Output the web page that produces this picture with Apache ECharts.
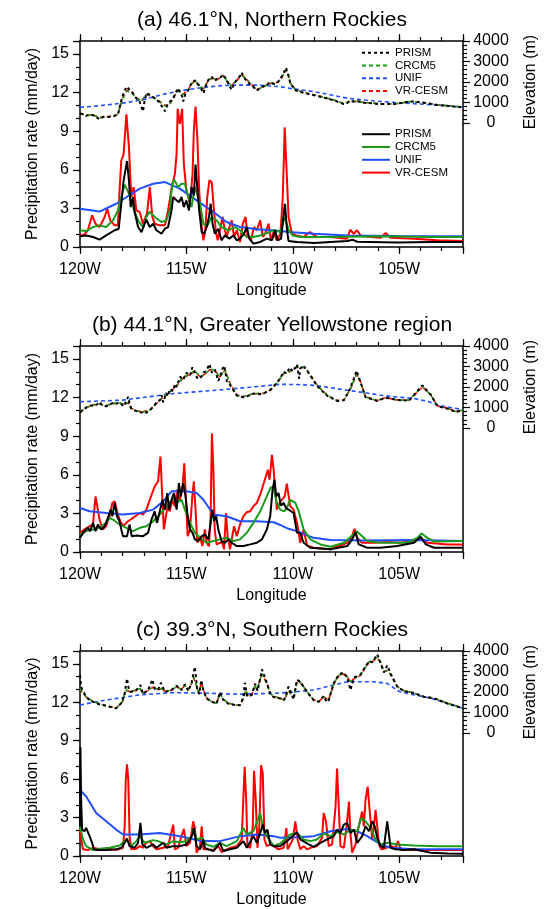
<!DOCTYPE html>
<html>
<head>
<meta charset="utf-8">
<script src="https://cdn.jsdelivr.net/npm/echarts/dist/echarts.min.js"></script>
<style>
html, body { margin: 0; padding: 0; background: #fff; }
#chart { width: 552px; height: 909px; }
</style>
</head>
<body>
<div id="chart"></div>
<script>
// Axis ticks and labels
const lonTicks = [-120, -115, -110, -105];
const lonTickLabels = ['120W', '115W', '110W', '105W'];
const precipTicks = [0, 3, 6, 9, 12, 15];
const elevTicks = [0, 1000, 2000, 3000, 4000];
const panelTitles = [
  '(a) 46.1°N, Northern Rockies',
  '(b) 44.1°N, Greater Yellowstone region',
  '(c) 39.3°N, Southern Rockies'
];
const modelNames = ['PRISM', 'CRCM5', 'UNIF', 'VR-CESM'];

// ---------- (a) 46.1N : elevation (m), [longitude, value] ----------
const aElevPRISM = [[-120,470],[-119.85,420],[-119.71,350],[-119.55,420],[-119.39,380],[-119.08,190],[-118.9,300],[-118.77,290],[-118.45,320],[-118.22,400],[-118.01,1300],[-117.9,1600],[-117.79,1780],[-117.7,1650],[-117.59,1560],[-117.35,1200],[-117.2,1050],[-117.04,570],[-116.96,1100],[-116.88,1450],[-116.72,1380],[-116.64,1300],[-116.49,1200],[-116.25,1000],[-116.09,700],[-116.01,570],[-115.86,950],[-115.78,880],[-115.62,1200],[-115.54,1400],[-115.39,1700],[-115.3,1500],[-115.2,1300],[-115.15,1050],[-115.05,1400],[-114.91,1600],[-114.76,1950],[-114.6,2080],[-114.49,1900],[-114.36,1800],[-114.2,1450],[-114.05,1900],[-113.97,2100],[-113.81,2250],[-113.66,2050],[-113.58,2150],[-113.42,2200],[-113.27,2360],[-113.11,2100],[-113.03,1900],[-112.87,1620],[-112.75,1950],[-112.63,2100],[-112.48,2300],[-112.4,2460],[-112.29,2200],[-112.16,2050],[-112.04,1900],[-111.93,1850],[-111.69,1580],[-111.55,1700],[-111.45,1760],[-111.22,1840],[-111.1,1980],[-110.98,1940],[-110.83,1880],[-110.7,2000],[-110.58,2150],[-110.43,2450],[-110.32,2700],[-110.19,2280],[-110.12,1950],[-109.88,1600],[-109.6,1500],[-109.33,1430],[-109.0,1350],[-108.7,1280],[-108.4,1200],[-108.07,1110],[-107.8,1000],[-107.6,920],[-107.45,960],[-107.29,1100],[-107.1,1020],[-106.9,1060],[-106.66,990],[-106.3,960],[-105.87,920],[-105.5,940],[-105.25,930],[-104.9,980],[-104.46,1060],[-104.2,1020],[-103.99,1010],[-103.6,950],[-103.2,880],[-102.8,840],[-102.4,800],[-102,770]];
const aElevCRCM5 = [[-120,480],[-119.71,360],[-119.39,400],[-119.08,260],[-118.77,300],[-118.45,330],[-118.22,420],[-118.01,1150],[-117.79,1560],[-117.59,1500],[-117.35,1210],[-117.11,1060],[-116.88,1400],[-116.64,1300],[-116.49,1210],[-116.25,1040],[-116.01,830],[-115.78,900],[-115.54,1370],[-115.39,1600],[-115.15,1380],[-114.91,1610],[-114.76,1920],[-114.6,2040],[-114.36,1810],[-114.2,1640],[-113.97,2090],[-113.81,2200],[-113.58,2100],[-113.27,2330],[-113.03,1950],[-112.87,1810],[-112.63,2100],[-112.4,2370],[-112.16,2100],[-111.93,1860],[-111.69,1620],[-111.45,1740],[-111.22,1850],[-110.98,1960],[-110.83,1900],[-110.58,2120],[-110.43,2400],[-110.32,2600],[-110.19,2250],[-110.12,1940],[-109.88,1620],[-109.33,1450],[-108.7,1290],[-108.07,1130],[-107.6,940],[-107.29,1080],[-106.66,1000],[-105.87,930],[-105.25,930],[-104.46,1050],[-103.99,1000],[-103.2,890],[-102.4,810],[-102,775]];
const aElevUNIF = [[-120,760],[-119,850],[-118,970],[-117,1140],[-116.5,1290],[-116,1420],[-115,1620],[-114,1760],[-113.27,1830],[-112.5,1850],[-111.69,1850],[-111,1800],[-110.59,1770],[-110.19,1700],[-109.5,1600],[-109,1530],[-108.2,1370],[-107.44,1210],[-106.6,1120],[-105.87,1050],[-105,990],[-104.3,940],[-103,860],[-102,775]];
const aElevVRCESM = [[-120,470],[-119.71,370],[-119.39,390],[-119.08,270],[-118.77,310],[-118.45,340],[-118.22,430],[-118.01,1200],[-117.79,1610],[-117.59,1540],[-117.35,1230],[-117.11,1080],[-116.88,1380],[-116.64,1310],[-116.49,1220],[-116.25,1060],[-116.01,860],[-115.78,920],[-115.54,1350],[-115.39,1580],[-115.15,1400],[-114.91,1620],[-114.76,1900],[-114.6,2070],[-114.36,1830],[-114.2,1660],[-113.97,2060],[-113.81,2180],[-113.58,2110],[-113.27,2300],[-113.03,1970],[-112.87,1830],[-112.63,2080],[-112.4,2340],[-112.16,2120],[-111.93,1870],[-111.69,1640],[-111.45,1730],[-111.22,1860],[-110.98,1950],[-110.83,1920],[-110.58,2100],[-110.43,2380],[-110.32,2570],[-110.19,2270],[-110.12,1960],[-109.88,1640],[-109.33,1460],[-108.7,1300],[-108.07,1120],[-107.6,950],[-107.29,1070],[-106.66,1010],[-105.87,940],[-105.25,920],[-104.46,1040],[-103.99,1010],[-103.2,880],[-102.4,815],[-102,780]];

// ---------- (a) 46.1N : precipitation (mm/day) ----------
const aPrecipPRISM = [[-120,0.83],[-119.71,0.9],[-119.39,0.78],[-119.08,0.57],[-118.77,0.9],[-118.37,1.3],[-118.18,1.42],[-118.06,3.36],[-117.95,5.17],[-117.79,6.67],[-117.7,5.17],[-117.62,3.1],[-117.51,3.88],[-117.43,2.7],[-117.27,1.55],[-117.11,1.16],[-116.96,1.81],[-116.88,2.12],[-116.72,1.55],[-116.56,1.81],[-116.41,1.3],[-116.17,1.03],[-116.01,1.42],[-115.86,1.55],[-115.7,2.84],[-115.62,3.88],[-115.46,3.62],[-115.34,3.49],[-115.23,3.88],[-115.12,3.1],[-115.0,3.62],[-114.88,2.84],[-114.76,4.65],[-114.65,4.0],[-114.57,6.41],[-114.49,4.65],[-114.4,2.84],[-114.28,1.16],[-114.17,1.03],[-114.05,1.55],[-113.94,2.33],[-113.86,3.36],[-113.77,1.81],[-113.66,1.03],[-113.5,1.42],[-113.35,0.52],[-113.19,0.9],[-112.98,0.65],[-112.79,0.9],[-112.63,0.52],[-112.48,0.65],[-112.29,1.03],[-112.16,1.55],[-112.04,0.65],[-111.85,0.26],[-111.53,0.39],[-111.22,0.65],[-110.98,0.52],[-110.83,1.3],[-110.71,0.52],[-110.55,0.65],[-110.46,2.07],[-110.37,3.36],[-110.27,1.3],[-110.2,0.47],[-109.8,0.39],[-109.0,0.31],[-107.44,0.47],[-107.2,0.57],[-106.97,0.41],[-105.1,0.34],[-103.5,0.39],[-102,0.39]];
const aPrecipCRCM5 = [[-120,1.3],[-119.71,1.24],[-119.39,1.55],[-119.08,1.68],[-118.77,1.55],[-118.45,2.07],[-118.22,2.84],[-118.06,3.88],[-117.9,4.85],[-117.7,4.14],[-117.51,3.1],[-117.27,2.07],[-117.04,1.55],[-116.88,2.33],[-116.72,2.75],[-116.49,2.33],[-116.17,1.94],[-115.94,2.07],[-115.78,2.84],[-115.67,4.91],[-115.57,5.22],[-115.39,4.65],[-115.23,4.91],[-115.07,4.91],[-114.91,3.88],[-114.76,3.1],[-114.6,4.65],[-114.52,4.65],[-114.36,3.36],[-114.2,1.81],[-114.05,1.55],[-113.81,2.33],[-113.58,2.07],[-113.35,1.55],[-113.03,1.3],[-112.72,1.55],[-112.48,1.3],[-112.16,0.78],[-111.85,0.78],[-111.53,0.9],[-111.22,1.09],[-110.9,1.3],[-110.58,1.16],[-110.38,2.33],[-110.19,1.3],[-110.0,0.9],[-109.65,0.78],[-108.23,0.78],[-105.87,0.83],[-103.5,0.78],[-102,0.78]];
const aPrecipUNIF = [[-120,2.97],[-119.08,2.75],[-118.3,3.36],[-117.19,4.53],[-116.56,4.91],[-116.01,5.04],[-115.31,4.53],[-114.52,3.62],[-113.73,2.72],[-113.11,1.94],[-112.48,1.55],[-111.69,1.37],[-110.9,1.3],[-110.19,1.16],[-109.0,1.03],[-107.44,0.9],[-105.09,0.85],[-102,0.83]];
const aPrecipVRCESM = [[-120,0.9],[-119.79,0.98],[-119.63,1.3],[-119.43,2.46],[-119.27,1.8],[-119.08,1.55],[-118.84,2.33],[-118.72,2.97],[-118.58,2.07],[-118.37,1.68],[-118.22,1.68],[-118.14,4.4],[-118.06,6.72],[-117.95,7.2],[-117.82,10.3],[-117.7,7.76],[-117.59,3.88],[-117.48,4.65],[-117.35,2.84],[-117.19,2.7],[-117.04,1.81],[-116.96,1.68],[-116.85,2.59],[-116.72,4.65],[-116.6,2.33],[-116.49,1.81],[-116.25,1.68],[-116.01,1.68],[-115.86,2.84],[-115.7,4.53],[-115.54,5.69],[-115.46,7.24],[-115.41,10.73],[-115.31,9.57],[-115.2,10.73],[-115.12,6.46],[-115.0,4.4],[-114.83,3.36],[-114.71,5.69],[-114.65,9.05],[-114.57,10.91],[-114.48,8.27],[-114.4,4.4],[-114.28,1.55],[-114.2,0.52],[-114.11,1.3],[-114.02,3.88],[-113.92,5.17],[-113.81,5.04],[-113.73,3.36],[-113.62,1.3],[-113.53,0.52],[-113.42,1.3],[-113.3,2.33],[-113.19,1.3],[-113.11,0.78],[-112.98,1.55],[-112.87,2.07],[-112.76,0.78],[-112.63,1.3],[-112.48,0.39],[-112.35,1.81],[-112.22,2.33],[-112.13,0.9],[-111.97,0.52],[-111.82,1.55],[-111.69,1.3],[-111.53,2.07],[-111.41,0.78],[-111.3,1.03],[-111.14,1.81],[-111.03,0.52],[-110.9,1.16],[-110.75,0.52],[-110.58,1.03],[-110.47,3.88],[-110.38,9.3],[-110.27,5.17],[-110.2,2.33],[-110.04,1.03],[-109.82,0.9],[-109.5,0.78],[-109.2,1.16],[-108.86,0.78],[-108.23,0.78],[-107.45,0.65],[-107.3,1.34],[-107.14,1.03],[-106.98,1.3],[-106.82,0.9],[-106.35,0.78],[-105.87,0.72],[-105.64,1.09],[-105.4,0.72],[-104.3,0.65],[-103.2,0.52],[-102,0.47]];

// ---------- (b) 44.1N : elevation (m) ----------
const bElevPRISM = [[-120,760],[-119.85,900],[-119.71,1000],[-119.55,1080],[-119.39,1100],[-119.2,1150],[-119.08,1280],[-118.95,1100],[-118.77,1060],[-118.6,1150],[-118.45,1220],[-118.3,1180],[-118.14,1250],[-117.95,1050],[-117.74,1520],[-117.65,1100],[-117.59,940],[-117.35,820],[-117.1,760],[-116.96,700],[-116.72,860],[-116.5,1100],[-116.41,1250],[-116.25,1350],[-116.17,1600],[-116.09,1250],[-115.95,1700],[-115.86,1550],[-115.78,1900],[-115.62,1800],[-115.54,2150],[-115.46,2000],[-115.3,2500],[-115.15,2350],[-115.0,2700],[-114.83,2550],[-114.72,2960],[-114.6,2700],[-114.5,2450],[-114.36,2400],[-114.2,2700],[-114.05,2800],[-113.92,3120],[-113.8,2700],[-113.66,2850],[-113.5,2300],[-113.42,2500],[-113.3,2900],[-113.22,3040],[-113.1,2300],[-112.95,2100],[-112.63,1580],[-112.32,1500],[-112.0,1600],[-111.85,1680],[-111.6,1650],[-111.38,1690],[-111.06,1850],[-110.75,2200],[-110.55,2500],[-110.43,2750],[-110.28,2650],[-110.15,2950],[-110.0,2750],[-109.8,3100],[-109.7,2400],[-109.65,2900],[-109.5,3050],[-109.41,3120],[-109.17,2560],[-108.86,2050],[-108.39,1580],[-107.92,1320],[-107.6,1350],[-107.29,1950],[-107.0,2800],[-106.82,2250],[-106.58,1500],[-106.03,1320],[-105.64,1480],[-105.09,1370],[-104.54,1330],[-104.3,1620],[-103.91,2080],[-103.51,1620],[-103.2,1060],[-102.73,940],[-102.33,780],[-102,880]];
const bElevCRCM5 = [[-120,800],[-119.71,1000],[-119.39,1120],[-119.08,1170],[-118.77,1080],[-118.45,1200],[-118.14,1230],[-117.9,1120],[-117.74,1250],[-117.59,960],[-117.35,830],[-117.04,780],[-116.96,720],[-116.72,880],[-116.41,1200],[-116.09,1520],[-115.78,1760],[-115.46,2080],[-115.15,2480],[-114.83,2640],[-114.6,2800],[-114.36,2480],[-114.13,2610],[-113.89,2880],[-113.66,2800],[-113.42,2480],[-113.19,2850],[-112.95,2160],[-112.63,1600],[-112.32,1520],[-111.85,1680],[-111.38,1680],[-111.06,1840],[-110.75,2190],[-110.43,2670],[-110.19,2720],[-109.8,2990],[-109.41,2960],[-109.17,2560],[-108.86,2080],[-108.39,1600],[-107.92,1330],[-107.6,1360],[-107.29,1920],[-107.0,2640],[-106.82,2240],[-106.58,1520],[-106.03,1330],[-105.64,1490],[-105.09,1360],[-104.54,1360],[-104.3,1600],[-103.91,2030],[-103.51,1600],[-103.2,1070],[-102.73,960],[-102.33,800],[-102,880]];
const bElevUNIF = [[-120,1280],[-118,1360],[-115.6,1680],[-113.27,1870],[-112,1990],[-110.6,2130],[-109.8,2120],[-109.0,2080],[-108.2,1960],[-107.44,1840],[-106.6,1720],[-105.87,1600],[-105.1,1510],[-104.3,1440],[-103.6,1280],[-103.2,1120],[-102.6,1000],[-102,900]];
const bElevVRCESM = [[-120,790],[-119.71,990],[-119.39,1130],[-119.08,1160],[-118.77,1090],[-118.45,1190],[-118.14,1220],[-117.9,1130],[-117.74,1230],[-117.59,970],[-117.35,840],[-117.04,790],[-116.96,740],[-116.72,890],[-116.41,1190],[-116.09,1500],[-115.78,1740],[-115.46,2060],[-115.15,2450],[-114.83,2620],[-114.6,2760],[-114.36,2500],[-114.13,2630],[-113.89,2850],[-113.66,2780],[-113.42,2500],[-113.19,2820],[-112.95,2180],[-112.63,1620],[-112.32,1530],[-111.85,1670],[-111.38,1690],[-111.06,1850],[-110.75,2170],[-110.43,2640],[-110.19,2740],[-109.8,2960],[-109.41,2940],[-109.17,2580],[-108.86,2100],[-108.39,1610],[-107.92,1340],[-107.6,1370],[-107.29,1900],[-107.0,2600],[-106.82,2260],[-106.58,1540],[-106.03,1340],[-105.64,1480],[-105.09,1370],[-104.54,1350],[-104.3,1590],[-103.91,2000],[-103.51,1610],[-103.2,1080],[-102.73,970],[-102.33,810],[-102,870]];

// ---------- (b) 44.1N : precipitation (mm/day) ----------
const bPrecipPRISM = [[-120,1.11],[-119.79,1.62],[-119.63,1.88],[-119.52,1.62],[-119.39,2.26],[-119.27,1.62],[-119.16,2.13],[-119.0,1.75],[-118.84,2.0],[-118.69,2.65],[-118.56,3.29],[-118.48,2.78],[-118.37,3.81],[-118.26,2.78],[-118.14,2.39],[-118.06,1.75],[-117.98,1.23],[-117.79,1.23],[-117.67,2.13],[-117.57,1.23],[-117.35,1.29],[-117.04,1.23],[-116.8,1.49],[-116.64,2.52],[-116.49,3.16],[-116.38,2.26],[-116.25,3.16],[-116.12,4.06],[-116.01,3.29],[-115.9,4.58],[-115.81,3.29],[-115.7,4.06],[-115.59,4.58],[-115.46,3.29],[-115.35,5.35],[-115.26,4.32],[-115.15,5.35],[-115.04,4.32],[-114.94,2.78],[-114.83,1.75],[-114.71,1.49],[-114.6,0.98],[-114.44,0.85],[-114.28,1.23],[-114.13,1.36],[-113.97,0.98],[-113.86,2.26],[-113.78,3.29],[-113.7,2.39],[-113.6,2.78],[-113.5,1.75],[-113.35,0.85],[-113.19,0.72],[-113.03,0.98],[-112.87,0.72],[-112.63,0.46],[-112.32,0.46],[-112.0,0.59],[-111.69,0.72],[-111.45,0.98],[-111.22,1.75],[-111.06,2.78],[-110.95,4.84],[-110.86,5.61],[-110.78,4.32],[-110.67,4.58],[-110.56,3.6],[-110.43,3.81],[-110.31,3.4],[-110.2,3.29],[-110.12,3.29],[-109.96,3.03],[-109.8,1.49],[-109.65,1.49],[-109.49,0.72],[-109.17,0.33],[-108.23,0.21],[-107.44,0.46],[-107.21,0.98],[-107.05,1.54],[-106.9,0.59],[-106.5,0.33],[-105.87,0.33],[-105.09,0.46],[-104.3,0.72],[-103.99,1.18],[-103.75,0.59],[-103.36,0.33],[-102,0.33]];
const bPrecipCRCM5 = [[-120,1.36],[-119.71,1.62],[-119.39,1.75],[-119.08,1.88],[-118.77,2.26],[-118.61,2.65],[-118.45,2.52],[-118.14,2.13],[-117.82,1.88],[-117.51,1.62],[-117.19,1.88],[-116.88,2.0],[-116.56,2.39],[-116.25,2.91],[-115.94,3.55],[-115.62,4.19],[-115.46,3.81],[-115.23,4.06],[-115.07,3.29],[-114.83,2.26],[-114.6,1.49],[-114.36,1.11],[-114.05,0.72],[-113.73,0.85],[-113.42,0.98],[-113.11,1.11],[-112.79,0.85],[-112.48,0.98],[-112.16,1.49],[-111.85,2.26],[-111.53,3.16],[-111.22,4.32],[-111.03,5.04],[-110.9,4.96],[-110.75,3.81],[-110.59,3.29],[-110.4,3.16],[-110.28,3.42],[-110.12,4.06],[-109.88,3.81],[-109.72,3.16],[-109.49,1.75],[-109.17,0.98],[-108.7,0.59],[-108.23,0.41],[-107.6,0.72],[-107.21,1.29],[-107.0,1.62],[-106.74,1.23],[-106.5,0.85],[-105.87,0.72],[-104.62,0.72],[-104.15,1.1],[-103.95,1.44],[-103.67,1.1],[-103.36,0.82],[-102,0.85]];
const bPrecipUNIF = [[-120,3.42],[-119.55,3.16],[-118.77,3.03],[-117.98,2.91],[-117.19,3.03],[-116.56,3.29],[-116.09,3.94],[-115.7,4.71],[-115.0,4.71],[-114.52,4.58],[-114.2,4.06],[-113.73,2.91],[-113.11,2.78],[-112.48,2.39],[-111.69,2.39],[-110.9,2.31],[-110.59,2.1],[-110.2,1.8],[-109.8,1.62],[-109.02,1.1],[-108.23,0.93],[-106.66,0.9],[-104.3,0.93],[-102,0.85]];
const bPrecipVRCESM = [[-120,1.49],[-119.79,1.75],[-119.55,2.0],[-119.39,2.13],[-119.27,4.32],[-119.19,4.45],[-119.08,2.52],[-118.93,1.75],[-118.77,2.0],[-118.61,2.78],[-118.48,3.81],[-118.37,3.94],[-118.26,3.16],[-118.14,2.52],[-117.98,2.0],[-117.74,2.39],[-117.51,2.65],[-117.19,3.03],[-117.04,2.9],[-116.88,3.29],[-116.72,4.06],[-116.49,5.09],[-116.33,5.48],[-116.22,7.41],[-116.14,7.54],[-116.06,1.75],[-115.97,1.88],[-115.89,3.55],[-115.78,3.16],[-115.65,4.06],[-115.54,3.55],[-115.43,4.84],[-115.31,4.06],[-115.18,5.09],[-115.1,6.89],[-115.02,7.02],[-114.94,1.23],[-114.83,1.75],[-114.72,4.32],[-114.65,5.48],[-114.57,3.29],[-114.49,0.72],[-114.36,1.23],[-114.25,0.46],[-114.13,1.75],[-114.05,0.72],[-113.94,0.46],[-113.86,2.78],[-113.8,9.21],[-113.73,6.38],[-113.67,1.75],[-113.58,0.59],[-113.42,0.72],[-113.31,0.72],[-113.23,0.21],[-113.14,3.03],[-113.06,1.23],[-112.95,0.21],[-112.87,0.21],[-112.76,2.0],[-112.63,1.23],[-112.48,2.13],[-112.32,2.78],[-112.16,3.09],[-112.0,3.16],[-111.85,3.55],[-111.69,3.81],[-111.53,4.45],[-111.34,5.48],[-111.17,6.38],[-111.09,5.61],[-110.98,7.54],[-110.9,6.38],[-110.75,3.29],[-110.62,3.81],[-110.51,4.06],[-110.38,4.32],[-110.28,5.3],[-110.12,3.55],[-109.96,3.29],[-109.8,2.26],[-109.65,0.72],[-109.49,1.75],[-109.33,0.51],[-109.02,0.33],[-108.23,0.21],[-107.44,0.72],[-107.21,1.23],[-107.1,1.8],[-106.97,1.1],[-106.74,0.72],[-106.19,0.72],[-105.56,0.77],[-104.93,0.72],[-104.3,0.85],[-103.99,1.1],[-103.67,0.72],[-102.73,0.59],[-102,0.59]];

// ---------- (c) 39.3N : elevation (m) ----------
const cElevPRISM = [[-120,2820],[-119.95,2300],[-119.9,2100],[-119.71,1780],[-119.55,1600],[-119.39,1520],[-119.1,1400],[-118.92,1360],[-118.61,1280],[-118.3,1200],[-118.14,1370],[-118.01,1530],[-117.9,1940],[-117.79,2660],[-117.7,2100],[-117.62,2000],[-117.35,2100],[-117.16,2340],[-117.04,1900],[-116.8,2100],[-116.6,2610],[-116.49,2150],[-116.33,2100],[-116.2,2450],[-116.01,2000],[-115.7,2100],[-115.46,2300],[-115.23,2100],[-115.07,2380],[-114.91,2050],[-114.76,2450],[-114.6,3230],[-114.49,2100],[-114.4,1900],[-114.3,2580],[-114.2,2050],[-114.05,1680],[-113.81,1520],[-113.58,1430],[-113.42,2000],[-113.27,1620],[-113.03,1430],[-112.71,1360],[-112.48,1350],[-112.32,1750],[-112.25,2450],[-112.15,1800],[-111.93,1850],[-111.77,2400],[-111.65,2050],[-111.45,3100],[-111.3,2700],[-111.22,2450],[-111.06,1900],[-110.9,1750],[-110.59,1680],[-110.4,1620],[-110.2,2260],[-109.96,1650],[-109.8,2600],[-109.65,2500],[-109.33,2000],[-109.02,1600],[-108.78,1520],[-108.55,1800],[-108.4,1500],[-108.31,1600],[-108.07,2450],[-107.84,2850],[-107.6,2950],[-107.44,2700],[-107.29,2100],[-107.13,2700],[-106.82,2850],[-106.58,3250],[-106.42,3500],[-106.26,3450],[-106.03,3840],[-105.87,3400],[-105.72,2950],[-105.56,3300],[-105.32,2700],[-105.09,2250],[-104.78,2050],[-104.3,1950],[-103.83,1760],[-103.36,1690],[-102.73,1440],[-102,1200]];
const cElevCRCM5 = [[-120,2180],[-119.9,2000],[-119.71,1770],[-119.39,1530],[-118.92,1370],[-118.61,1290],[-118.3,1210],[-118.14,1370],[-118.01,1530],[-117.9,1940],[-117.82,2100],[-117.62,2020],[-117.35,2100],[-117.19,2180],[-117.04,1940],[-116.8,2100],[-116.56,2260],[-116.33,2100],[-116.17,2180],[-116.01,2020],[-115.7,2100],[-115.46,2260],[-115.23,2130],[-115.07,2340],[-114.91,2100],[-114.76,2420],[-114.65,2740],[-114.49,2180],[-114.4,1940],[-114.3,2500],[-114.2,2100],[-114.05,1700],[-113.81,1530],[-113.58,1450],[-113.42,1940],[-113.27,1650],[-113.03,1450],[-112.71,1370],[-112.48,1370],[-112.32,1700],[-112.22,2100],[-112.08,1780],[-111.93,1860],[-111.77,2340],[-111.69,2100],[-111.45,2900],[-111.22,2420],[-111.06,1940],[-110.9,1770],[-110.59,1700],[-110.4,1600],[-110.2,2080],[-109.96,1700],[-109.8,2560],[-109.65,2480],[-109.33,2020],[-109.02,1610],[-108.78,1530],[-108.55,1770],[-108.31,1610],[-108.07,2420],[-107.84,2820],[-107.6,2900],[-107.44,2740],[-107.29,2500],[-107.13,2660],[-106.82,2820],[-106.58,3230],[-106.42,3470],[-106.26,3520],[-106.03,3700],[-105.87,3470],[-105.72,2980],[-105.56,3060],[-105.32,2740],[-105.09,2260],[-104.78,2060],[-104.3,1940],[-103.83,1770],[-103.36,1700],[-102.73,1450],[-102,1210]];
const cElevUNIF = [[-120,1370],[-118.77,1610],[-117.19,1860],[-115.62,1970],[-114.05,1940],[-112.48,1890],[-110.9,1940],[-110.59,1940],[-109.02,2100],[-107.44,2500],[-106.2,2500],[-105.56,2420],[-105.0,2020],[-103.5,1690],[-102,1210]];
const cElevVRCESM = [[-120,2150],[-119.9,1980],[-119.71,1760],[-119.39,1540],[-118.92,1380],[-118.61,1300],[-118.3,1220],[-118.14,1360],[-118.01,1520],[-117.9,1900],[-117.82,2060],[-117.62,2030],[-117.35,2080],[-117.19,2150],[-117.04,1960],[-116.8,2080],[-116.56,2230],[-116.33,2110],[-116.17,2160],[-116.01,2030],[-115.7,2090],[-115.46,2240],[-115.23,2140],[-115.07,2310],[-114.91,2110],[-114.76,2400],[-114.65,2680],[-114.49,2200],[-114.4,1960],[-114.3,2450],[-114.2,2110],[-114.05,1720],[-113.81,1540],[-113.58,1460],[-113.42,1900],[-113.27,1660],[-113.03,1460],[-112.71,1380],[-112.48,1380],[-112.32,1680],[-112.22,2060],[-112.08,1790],[-111.93,1870],[-111.77,2300],[-111.69,2120],[-111.45,2850],[-111.22,2440],[-111.06,1960],[-110.9,1780],[-110.59,1710],[-110.4,1610],[-110.2,2050],[-109.96,1710],[-109.8,2520],[-109.65,2460],[-109.33,2030],[-109.02,1620],[-108.78,1540],[-108.55,1750],[-108.31,1620],[-108.07,2380],[-107.84,2780],[-107.6,2870],[-107.44,2720],[-107.29,2520],[-107.13,2640],[-106.82,2800],[-106.58,3200],[-106.42,3430],[-106.26,3490],[-106.03,3650],[-105.87,3450],[-105.72,3000],[-105.56,3040],[-105.32,2750],[-105.09,2270],[-104.78,2070],[-104.3,1950],[-103.83,1780],[-103.36,1700],[-102.73,1460],[-102,1220]];

// ---------- (c) 39.3N : precipitation (mm/day) ----------
const cPrecipPRISM = [[-120,2.3],[-119.98,8.5],[-119.95,4.5],[-119.9,2.06],[-119.79,1.93],[-119.71,2.19],[-119.55,1.55],[-119.43,1.03],[-119.35,0.52],[-119.16,0.46],[-118.77,0.46],[-118.3,0.52],[-118.06,0.64],[-117.9,1.03],[-117.79,1.37],[-117.67,0.77],[-117.43,0.64],[-117.27,1.03],[-117.16,2.58],[-117.07,0.9],[-116.88,0.64],[-116.56,0.9],[-116.41,0.64],[-116.09,1.03],[-115.94,0.64],[-115.62,0.77],[-115.31,0.77],[-115.0,0.9],[-114.83,1.29],[-114.71,1.68],[-114.65,2.19],[-114.52,0.77],[-114.36,0.52],[-114.2,1.29],[-114.13,0.64],[-113.97,0.52],[-113.73,0.39],[-113.42,1.03],[-113.27,0.39],[-112.95,0.52],[-112.63,0.64],[-112.32,1.16],[-112.16,0.64],[-111.85,1.55],[-111.69,1.03],[-111.53,1.8],[-111.41,2.45],[-111.3,1.8],[-111.19,2.06],[-111.06,0.9],[-110.9,0.77],[-110.59,0.77],[-110.28,1.16],[-109.8,1.86],[-109.65,1.29],[-109.33,0.98],[-109.02,0.72],[-108.7,1.03],[-108.39,1.29],[-108.07,1.55],[-107.92,2.06],[-107.76,1.8],[-107.6,2.45],[-107.44,2.58],[-107.29,1.8],[-107.13,2.06],[-106.97,1.03],[-106.74,1.55],[-106.58,2.32],[-106.42,1.93],[-106.26,2.71],[-106.15,2.32],[-106.03,1.42],[-105.87,0.77],[-105.72,0.64],[-105.56,2.71],[-105.4,0.64],[-105.17,0.52],[-104.78,0.46],[-104.3,0.52],[-103.52,0.26],[-102.73,0.2],[-102,0.18]];
const cPrecipCRCM5 = [[-120,2.32],[-119.86,1.29],[-119.71,0.77],[-119.39,0.46],[-119.08,0.57],[-118.61,0.64],[-118.14,0.82],[-117.82,1.29],[-117.59,0.77],[-117.35,1.16],[-117.19,1.55],[-116.96,1.03],[-116.56,1.24],[-116.33,1.16],[-115.94,0.9],[-115.62,1.16],[-115.31,1.08],[-115.0,1.16],[-114.76,1.55],[-114.65,2.19],[-114.52,1.29],[-114.28,1.42],[-114.05,0.9],[-113.73,0.72],[-113.42,1.03],[-113.11,0.77],[-112.63,1.16],[-112.32,2.19],[-112.16,1.68],[-111.85,1.93],[-111.53,3.35],[-111.38,2.06],[-111.22,1.55],[-110.9,0.77],[-110.59,0.98],[-110.12,1.68],[-109.8,1.8],[-109.49,1.29],[-109.17,1.16],[-108.86,1.29],[-108.55,1.75],[-108.23,1.55],[-107.92,1.86],[-107.6,1.68],[-107.29,2.06],[-106.97,1.93],[-106.78,2.96],[-106.58,2.71],[-106.34,2.19],[-106.11,1.29],[-105.87,0.9],[-105.56,1.03],[-105.09,0.9],[-104.3,0.82],[-103.2,0.77],[-102,0.77]];
const cPrecipUNIF = [[-120,5.15],[-119.71,4.64],[-119.24,3.35],[-118.77,2.71],[-118.3,2.06],[-117.98,1.68],[-117.19,1.68],[-116.25,1.8],[-115.31,1.55],[-114.36,1.19],[-113.42,1.16],[-112.48,1.55],[-111.69,1.68],[-110.9,1.55],[-110.59,1.42],[-109.8,1.47],[-109.02,1.55],[-108.23,1.93],[-107.44,2.11],[-106.97,1.93],[-106.5,1.55],[-105.87,0.9],[-105.4,0.64],[-104.3,0.52],[-102,0.52]];
const cPrecipVRCESM = [[-120,2.06],[-119.94,1.29],[-119.86,0.52],[-119.63,0.46],[-119.39,0.64],[-119.08,0.52],[-118.77,0.57],[-118.3,0.46],[-117.98,0.64],[-117.9,2.32],[-117.85,5.93],[-117.79,7.16],[-117.73,5.93],[-117.67,1.55],[-117.59,0.52],[-117.35,0.57],[-117.19,0.77],[-117.04,0.64],[-116.88,1.03],[-116.72,1.16],[-116.56,0.77],[-116.41,0.52],[-116.09,0.64],[-115.86,0.77],[-115.62,2.45],[-115.54,0.52],[-115.39,0.64],[-115.23,1.55],[-115.12,2.11],[-115.0,0.77],[-114.83,1.03],[-114.68,2.71],[-114.6,2.19],[-114.52,0.26],[-114.36,0.77],[-114.28,2.32],[-114.2,0.52],[-114.05,0.52],[-113.73,0.46],[-113.5,0.77],[-113.35,0.31],[-112.95,0.64],[-112.63,0.77],[-112.4,1.29],[-112.32,4.64],[-112.26,6.96],[-112.19,4.38],[-112.13,0.77],[-112.0,0.64],[-111.88,2.32],[-111.82,6.65],[-111.74,4.38],[-111.66,0.64],[-111.57,2.32],[-111.49,7.09],[-111.41,6.44],[-111.33,1.29],[-111.22,0.77],[-111.06,0.9],[-110.9,0.77],[-110.67,0.52],[-110.43,0.64],[-110.3,2.19],[-110.24,0.52],[-110.0,1.29],[-109.88,2.71],[-109.77,1.29],[-109.65,0.52],[-109.49,0.77],[-109.33,0.52],[-109.17,0.64],[-108.86,0.77],[-108.62,1.42],[-108.55,3.35],[-108.44,2.71],[-108.31,0.77],[-108.15,0.9],[-107.99,3.87],[-107.92,6.83],[-107.84,3.87],[-107.76,0.77],[-107.6,0.64],[-107.47,2.32],[-107.36,4.25],[-107.29,1.8],[-107.21,0.26],[-107.05,0.9],[-106.9,2.32],[-106.74,3.48],[-106.66,2.32],[-106.58,4.38],[-106.48,5.41],[-106.39,3.61],[-106.26,1.29],[-106.19,2.32],[-106.11,3.61],[-106.03,2.32],[-105.95,0.9],[-105.84,0.52],[-105.72,0.57],[-105.4,0.77],[-105.17,0.64],[-105.06,1.16],[-104.93,0.52],[-104.3,0.46],[-103.52,0.46],[-102,0.46]];

const panels = [
  { title: panelTitles[0],
    elev:   { 'PRISM': aElevPRISM, 'CRCM5': aElevCRCM5, 'UNIF': aElevUNIF, 'VR-CESM': aElevVRCESM },
    precip: { 'PRISM': aPrecipPRISM, 'CRCM5': aPrecipCRCM5, 'UNIF': aPrecipUNIF, 'VR-CESM': aPrecipVRCESM } },
  { title: panelTitles[1],
    elev:   { 'PRISM': bElevPRISM, 'CRCM5': bElevCRCM5, 'UNIF': bElevUNIF, 'VR-CESM': bElevVRCESM },
    precip: { 'PRISM': bPrecipPRISM, 'CRCM5': bPrecipCRCM5, 'UNIF': bPrecipUNIF, 'VR-CESM': bPrecipVRCESM } },
  { title: panelTitles[2],
    elev:   { 'PRISM': cElevPRISM, 'CRCM5': cElevCRCM5, 'UNIF': cElevUNIF, 'VR-CESM': cElevVRCESM },
    precip: { 'PRISM': cPrecipPRISM, 'CRCM5': cPrecipCRCM5, 'UNIF': cPrecipUNIF, 'VR-CESM': cPrecipVRCESM } }
];

// ---------- styling / layout ----------
const FONT = "'Liberation Sans', Arial, Helvetica, sans-serif";
const colors = { 'PRISM': '#000000', 'CRCM5': '#1c9a1c', 'UNIF': '#1f4fff', 'VR-CESM': '#ff0000' };
const drawOrder = ['VR-CESM', 'UNIF', 'CRCM5', 'PRISM'];
const panelTop = [41, 346, 651];
const plotLeft = 80, plotWidth = 383, plotHeight = 206, elevHeight = 82;
const tickStyle = { color: '#000', width: 1.2 };

const option = {
  animation: false,
  backgroundColor: '#fff',
  textStyle: { fontFamily: FONT, color: '#000' },
  title: [], grid: [], xAxis: [], yAxis: [], series: [],
  legend: []
};

function lonAxis(gridIndex, position, interval, tickLen, withLabels) {
  return {
    type: 'value', gridIndex, position, min: -120, max: -102, interval,
    axisLine: { show: false },
    axisTick: { show: true, length: tickLen, lineStyle: tickStyle },
    splitLine: { show: false },
    axisLabel: withLabels ? {
      show: true, fontSize: 16, color: '#000', fontFamily: FONT, margin: 15,
      formatter: v => { const i = lonTicks.indexOf(v); return i >= 0 ? lonTickLabels[i] : ''; }
    } : { show: false }
  };
}

panels.forEach((pnl, p) => {
  const top = panelTop[p];
  const g = p * 2, bx = p * 5, by = p * 3;

  option.title.push({
    text: pnl.title, left: 272, top: top - 31, textAlign: 'center', padding: 0,
    textStyle: { fontSize: 21, fontWeight: 'normal', color: '#000', fontFamily: FONT }
  });

  // precipitation frame and elevation band in its upper part
  option.grid.push({ left: plotLeft, top, width: plotWidth, height: plotHeight,
    show: true, borderColor: '#000', borderWidth: 1.5, backgroundColor: 'transparent' });
  option.grid.push({ left: plotLeft, top, width: plotWidth, height: elevHeight, show: false });

  const xMajor = lonAxis(g, 'bottom', 5, 7, true);
  xMajor.name = 'Longitude';
  xMajor.nameLocation = 'middle';
  xMajor.nameGap = 36;
  xMajor.nameTextStyle = { fontSize: 16, color: '#000', fontFamily: FONT };
  option.xAxis.push(xMajor);
  option.xAxis.push(lonAxis(g, 'bottom', 1, 4, false));
  option.xAxis.push(lonAxis(g, 'top', 5, 7, false));
  option.xAxis.push(lonAxis(g, 'top', 1, 4, false));
  option.xAxis.push({ type: 'value', gridIndex: g + 1, min: -120, max: -102, show: false });

  option.yAxis.push({
    type: 'value', gridIndex: g, position: 'left', min: 0, max: 16, interval: 3,
    name: 'Precipitation rate (mm/day)', nameLocation: 'middle', nameGap: 39,
    nameTextStyle: { fontSize: 16, color: '#000', fontFamily: FONT },
    axisLine: { show: false },
    axisTick: { show: true, length: 7, lineStyle: tickStyle },
    splitLine: { show: false },
    axisLabel: { fontSize: 16, color: '#000', fontFamily: FONT, margin: 11,
      formatter: v => precipTicks.includes(v) ? String(v) : '' }
  });
  option.yAxis.push({
    type: 'value', gridIndex: g, position: 'left', min: 0, max: 16, interval: 1,
    axisLine: { show: false },
    axisTick: { show: true, length: 4, lineStyle: tickStyle },
    splitLine: { show: false }, axisLabel: { show: false }
  });
  option.yAxis.push({
    type: 'value', gridIndex: g + 1, position: 'right', min: 0, max: 4000, interval: 1000,
    name: 'Elevation (m)', nameLocation: 'middle', nameGap: 60, nameRotate: 90,
    nameTextStyle: { fontSize: 16, color: '#000', fontFamily: FONT },
    axisLine: { show: false },
    axisTick: { show: true, length: 7, lineStyle: tickStyle },
    minorTick: { show: true, splitNumber: 5, length: 4, lineStyle: tickStyle },
    splitLine: { show: false }, minorSplitLine: { show: false },
    axisLabel: { fontSize: 16, color: '#000', fontFamily: FONT, margin: 28, align: 'center',
      formatter: v => elevTicks.includes(v) ? String(v) : '' }
  });

  drawOrder.forEach(name => {
    option.series.push({
      name: name + ' elevation', type: 'line', xAxisIndex: bx + 4, yAxisIndex: by + 2,
      data: pnl.elev[name], symbol: 'none', showSymbol: false, clip: false, silent: true,
      itemStyle: { color: colors[name] },
      lineStyle: { color: colors[name], width: name === 'PRISM' ? 2 : 1.6,
        type: name === 'PRISM' ? [3, 3] : [4, 3] }
    });
  });
  drawOrder.forEach(name => {
    option.series.push({
      name: name + ' precipitation', type: 'line', xAxisIndex: bx, yAxisIndex: by,
      data: pnl.precip[name], symbol: 'none', showSymbol: false, silent: true,
      itemStyle: { color: colors[name] },
      lineStyle: { color: colors[name], width: 2 }
    });
  });
});

// legend keys: plain line samples, no marker in the middle
const legendCommon = {
  orient: 'vertical', left: 361, itemWidth: 28, itemHeight: 12, itemGap: 0.4, padding: 0,
  selectedMode: false,
  itemStyle: { color: 'transparent', borderColor: 'transparent', borderWidth: 0 },
  textStyle: { fontSize: 11.5, color: '#000', fontFamily: FONT, lineHeight: 12.4, height: 12.4 },
  formatter: n => n.split(' ')[0]
};
option.legend.push(Object.assign({}, legendCommon, { top: 46.5, data: modelNames.map(n => n + ' elevation') }));
option.legend.push(Object.assign({}, legendCommon, { top: 128, data: modelNames.map(n => n + ' precipitation') }));

const chart = echarts.init(document.getElementById('chart'), null, { renderer: 'canvas' });
chart.setOption(option);
</script>
</body>
</html>
